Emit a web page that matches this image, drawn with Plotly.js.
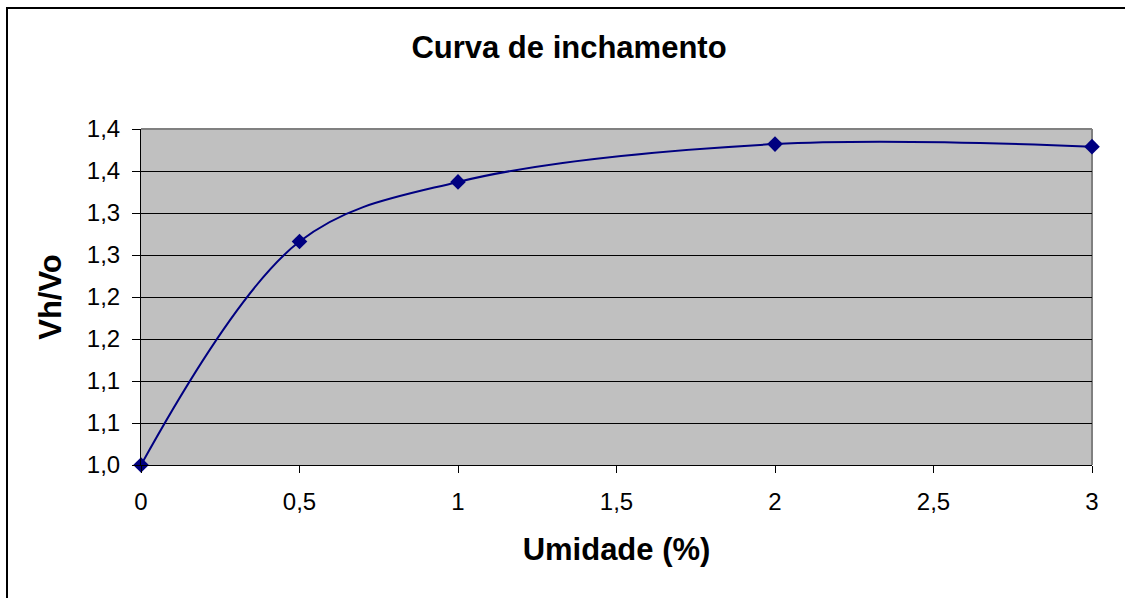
<!DOCTYPE html>
<html>
<head>
<meta charset="utf-8">
<script src="https://cdn.plot.ly/plotly-3.0.1.min.js"></script>
<style>html,body{margin:0;padding:0;background:#fff;}#chart{width:1125px;height:598px;}</style>
</head>
<body>
<div id="chart"></div>
<script>
const umidade = [0, 0.5, 1, 2, 3];
const vhvo = [1.0, 1.266, 1.337, 1.382, 1.379];
const yTickVals = [1.00, 1.05, 1.10, 1.15, 1.20, 1.25, 1.30, 1.35, 1.40];
const yTickText = ["1,0", "1,1", "1,1", "1,2", "1,2", "1,3", "1,3", "1,4", "1,4"];
const xTickVals = [0, 0.5, 1, 1.5, 2, 2.5, 3];
const xTickText = ["0", "0,5", "1", "1,5", "2", "2,5", "3"];

const FONT = "Liberation Sans, Arial, sans-serif";

const trace = {
  x: umidade,
  y: vhvo,
  type: "scatter",
  mode: "lines+markers",
  line: {color: "#000080", width: 2, shape: "spline", smoothing: 1},
  marker: {symbol: "diamond", size: 12, color: "#000080"},
  cliponaxis: false,
  hoverinfo: "skip"
};

const layout = {
  width: 1125,
  height: 598,
  margin: {l: 141, r: 33, t: 129, b: 133},
  paper_bgcolor: "#ffffff",
  plot_bgcolor: "#C0C0C0",
  showlegend: false,
  font: {family: FONT, color: "#000"},
  title: {
    text: "Curva de inchamento",
    font: {family: FONT, size: 31, weight: "bold", color: "#000"},
    x: 569 / 1125, xref: "container", xanchor: "center",
    y: 1 - 47.5 / 598, yref: "container", yanchor: "middle"
  },
  xaxis: {
    range: [0, 3],
    tickvals: xTickVals,
    ticktext: xTickText,
    showgrid: false,
    zeroline: false,
    showline: true, linecolor: "#000", linewidth: 1,
    ticks: "outside", ticklen: 7, tickcolor: "#000", tickwidth: 1,
    tickfont: {family: FONT, size: 24, color: "#000"},
    ticklabelstandoff: 8,
    title: {text: "Umidade (%)", font: {family: FONT, size: 31, weight: "bold", color: "#000"}, standoff: 24}
  },
  yaxis: {
    range: [1.0, 1.40],
    tickvals: yTickVals,
    ticktext: yTickText,
    showgrid: true, gridcolor: "#000", gridwidth: 1,
    zeroline: false,
    showline: true, linecolor: "#000", linewidth: 1,
    ticks: "outside", ticklen: 8, tickcolor: "#000", tickwidth: 1,
    tickfont: {family: FONT, size: 24, color: "#000"},
    ticklabelstandoff: 7,
    title: {text: "Vh/Vo", font: {family: FONT, size: 31, weight: "bold", color: "#000"}, standoff: 15}
  },
  shapes: [
    {type: "line", xref: "paper", yref: "paper", x0: 0, x1: 1, y0: 1, y1: 1,
     line: {color: "#808080", width: 2}, layer: "above"},
    {type: "line", xref: "paper", yref: "paper", x0: 1, x1: 1, y0: 0, y1: 1,
     line: {color: "#808080", width: 2}, layer: "between"},
    {type: "rect", xref: "paper", yref: "paper",
     x0: (7 - 141) / 951, x1: (1140 - 141) / 951,
     y0: (465 - 620) / 336, y1: (465 - 8) / 336,
     line: {color: "#000", width: 2}, layer: "below"}
  ]
};

Plotly.newPlot("chart", [trace], layout, {staticPlot: true, displayModeBar: false});
</script>
</body>
</html>
